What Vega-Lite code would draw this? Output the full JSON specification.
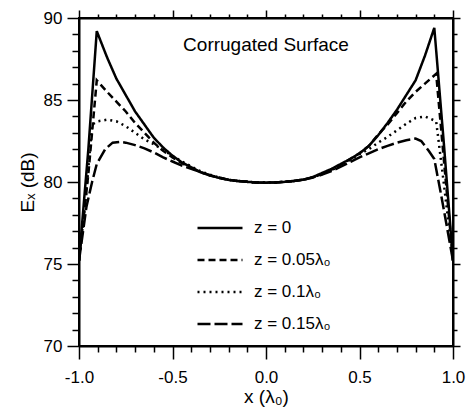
{
  "$schema": "https://vega.github.io/schema/vega-lite/v6.json",
  "width": 374,
  "height": 328,
  "autosize": "none",
  "padding": {"left": 79, "top": 18, "right": 14, "bottom": 73},
  "background": "white",
  "config": {
    "view": {"stroke": "black", "strokeWidth": 2},
    "font": "Liberation Sans",
    "axis": {"grid": false, "labelOverlap": false, "labelFlush": false, "domain": true, "ticks": true, "domainColor": "black", "tickColor": "black", "domainWidth": 2, "tickWidth": 1.5}
  },
  "datasets": {
    "curves": [
      {"x": -1.0, "y": 75.2, "s": "z = 0"},
      {"x": -0.95, "y": 82.0, "s": "z = 0"},
      {"x": -0.905, "y": 89.2, "s": "z = 0"},
      {"x": -0.85, "y": 87.6, "s": "z = 0"},
      {"x": -0.8, "y": 86.3, "s": "z = 0"},
      {"x": -0.75, "y": 85.3, "s": "z = 0"},
      {"x": -0.7, "y": 84.3, "s": "z = 0"},
      {"x": -0.65, "y": 83.5, "s": "z = 0"},
      {"x": -0.6, "y": 82.7, "s": "z = 0"},
      {"x": -0.55, "y": 82.1, "s": "z = 0"},
      {"x": -0.5, "y": 81.6, "s": "z = 0"},
      {"x": -0.45, "y": 81.2, "s": "z = 0"},
      {"x": -0.4, "y": 80.9, "s": "z = 0"},
      {"x": -0.35, "y": 80.6, "s": "z = 0"},
      {"x": -0.3, "y": 80.4, "s": "z = 0"},
      {"x": -0.25, "y": 80.25, "s": "z = 0"},
      {"x": -0.2, "y": 80.13, "s": "z = 0"},
      {"x": -0.15, "y": 80.06, "s": "z = 0"},
      {"x": -0.1, "y": 80.01, "s": "z = 0"},
      {"x": -0.05, "y": 79.97, "s": "z = 0"},
      {"x": 0.0, "y": 79.96, "s": "z = 0"},
      {"x": 0.05, "y": 79.97, "s": "z = 0"},
      {"x": 0.1, "y": 80.01, "s": "z = 0"},
      {"x": 0.15, "y": 80.07, "s": "z = 0"},
      {"x": 0.2, "y": 80.15, "s": "z = 0"},
      {"x": 0.25, "y": 80.3, "s": "z = 0"},
      {"x": 0.3, "y": 80.55, "s": "z = 0"},
      {"x": 0.35, "y": 80.8, "s": "z = 0"},
      {"x": 0.4, "y": 81.1, "s": "z = 0"},
      {"x": 0.45, "y": 81.4, "s": "z = 0"},
      {"x": 0.5, "y": 81.75, "s": "z = 0"},
      {"x": 0.55, "y": 82.2, "s": "z = 0"},
      {"x": 0.6, "y": 82.85, "s": "z = 0"},
      {"x": 0.65, "y": 83.6, "s": "z = 0"},
      {"x": 0.7, "y": 84.4, "s": "z = 0"},
      {"x": 0.75, "y": 85.3, "s": "z = 0"},
      {"x": 0.8, "y": 86.2, "s": "z = 0"},
      {"x": 0.85, "y": 87.7, "s": "z = 0"},
      {"x": 0.9, "y": 89.4, "s": "z = 0"},
      {"x": 0.95, "y": 82.5, "s": "z = 0"},
      {"x": 1.0, "y": 75.2, "s": "z = 0"},

      {"x": -1.0, "y": 75.2, "s": "z = 0.05λ₀"},
      {"x": -0.95, "y": 80.5, "s": "z = 0.05λ₀"},
      {"x": -0.905, "y": 86.2, "s": "z = 0.05λ₀"},
      {"x": -0.85, "y": 85.5, "s": "z = 0.05λ₀"},
      {"x": -0.8, "y": 84.9, "s": "z = 0.05λ₀"},
      {"x": -0.75, "y": 84.3, "s": "z = 0.05λ₀"},
      {"x": -0.7, "y": 83.6, "s": "z = 0.05λ₀"},
      {"x": -0.65, "y": 83.0, "s": "z = 0.05λ₀"},
      {"x": -0.6, "y": 82.4, "s": "z = 0.05λ₀"},
      {"x": -0.55, "y": 81.9, "s": "z = 0.05λ₀"},
      {"x": -0.5, "y": 81.5, "s": "z = 0.05λ₀"},
      {"x": -0.45, "y": 81.15, "s": "z = 0.05λ₀"},
      {"x": -0.4, "y": 80.85, "s": "z = 0.05λ₀"},
      {"x": -0.35, "y": 80.6, "s": "z = 0.05λ₀"},
      {"x": -0.3, "y": 80.4, "s": "z = 0.05λ₀"},
      {"x": -0.25, "y": 80.25, "s": "z = 0.05λ₀"},
      {"x": -0.2, "y": 80.13, "s": "z = 0.05λ₀"},
      {"x": -0.15, "y": 80.06, "s": "z = 0.05λ₀"},
      {"x": -0.1, "y": 80.01, "s": "z = 0.05λ₀"},
      {"x": -0.05, "y": 79.97, "s": "z = 0.05λ₀"},
      {"x": 0.0, "y": 79.96, "s": "z = 0.05λ₀"},
      {"x": 0.05, "y": 79.97, "s": "z = 0.05λ₀"},
      {"x": 0.1, "y": 80.01, "s": "z = 0.05λ₀"},
      {"x": 0.15, "y": 80.06, "s": "z = 0.05λ₀"},
      {"x": 0.2, "y": 80.14, "s": "z = 0.05λ₀"},
      {"x": 0.25, "y": 80.28, "s": "z = 0.05λ₀"},
      {"x": 0.3, "y": 80.5, "s": "z = 0.05λ₀"},
      {"x": 0.35, "y": 80.75, "s": "z = 0.05λ₀"},
      {"x": 0.4, "y": 81.05, "s": "z = 0.05λ₀"},
      {"x": 0.45, "y": 81.4, "s": "z = 0.05λ₀"},
      {"x": 0.5, "y": 81.75, "s": "z = 0.05λ₀"},
      {"x": 0.55, "y": 82.2, "s": "z = 0.05λ₀"},
      {"x": 0.6, "y": 82.9, "s": "z = 0.05λ₀"},
      {"x": 0.65, "y": 83.5, "s": "z = 0.05λ₀"},
      {"x": 0.7, "y": 84.2, "s": "z = 0.05λ₀"},
      {"x": 0.75, "y": 84.9, "s": "z = 0.05λ₀"},
      {"x": 0.8, "y": 85.5, "s": "z = 0.05λ₀"},
      {"x": 0.85, "y": 86.0, "s": "z = 0.05λ₀"},
      {"x": 0.91, "y": 86.6, "s": "z = 0.05λ₀"},
      {"x": 0.95, "y": 81.5, "s": "z = 0.05λ₀"},
      {"x": 1.0, "y": 75.2, "s": "z = 0.05λ₀"},

      {"x": -1.0, "y": 75.2, "s": "z = 0.1λ₀"},
      {"x": -0.96, "y": 79.5, "s": "z = 0.1λ₀"},
      {"x": -0.93, "y": 83.5, "s": "z = 0.1λ₀"},
      {"x": -0.9, "y": 83.7, "s": "z = 0.1λ₀"},
      {"x": -0.85, "y": 83.8, "s": "z = 0.1λ₀"},
      {"x": -0.8, "y": 83.7, "s": "z = 0.1λ₀"},
      {"x": -0.75, "y": 83.4, "s": "z = 0.1λ₀"},
      {"x": -0.7, "y": 83.0, "s": "z = 0.1λ₀"},
      {"x": -0.65, "y": 82.6, "s": "z = 0.1λ₀"},
      {"x": -0.6, "y": 82.3, "s": "z = 0.1λ₀"},
      {"x": -0.55, "y": 81.95, "s": "z = 0.1λ₀"},
      {"x": -0.5, "y": 81.6, "s": "z = 0.1λ₀"},
      {"x": -0.45, "y": 81.25, "s": "z = 0.1λ₀"},
      {"x": -0.4, "y": 80.95, "s": "z = 0.1λ₀"},
      {"x": -0.35, "y": 80.65, "s": "z = 0.1λ₀"},
      {"x": -0.3, "y": 80.45, "s": "z = 0.1λ₀"},
      {"x": -0.25, "y": 80.27, "s": "z = 0.1λ₀"},
      {"x": -0.2, "y": 80.13, "s": "z = 0.1λ₀"},
      {"x": -0.15, "y": 80.06, "s": "z = 0.1λ₀"},
      {"x": -0.1, "y": 80.01, "s": "z = 0.1λ₀"},
      {"x": -0.05, "y": 79.97, "s": "z = 0.1λ₀"},
      {"x": 0.0, "y": 79.96, "s": "z = 0.1λ₀"},
      {"x": 0.05, "y": 79.97, "s": "z = 0.1λ₀"},
      {"x": 0.1, "y": 80.01, "s": "z = 0.1λ₀"},
      {"x": 0.15, "y": 80.06, "s": "z = 0.1λ₀"},
      {"x": 0.2, "y": 80.14, "s": "z = 0.1λ₀"},
      {"x": 0.25, "y": 80.28, "s": "z = 0.1λ₀"},
      {"x": 0.3, "y": 80.48, "s": "z = 0.1λ₀"},
      {"x": 0.35, "y": 80.72, "s": "z = 0.1λ₀"},
      {"x": 0.4, "y": 81.0, "s": "z = 0.1λ₀"},
      {"x": 0.45, "y": 81.35, "s": "z = 0.1λ₀"},
      {"x": 0.5, "y": 81.7, "s": "z = 0.1λ₀"},
      {"x": 0.55, "y": 82.0, "s": "z = 0.1λ₀"},
      {"x": 0.6, "y": 82.4, "s": "z = 0.1λ₀"},
      {"x": 0.65, "y": 82.75, "s": "z = 0.1λ₀"},
      {"x": 0.7, "y": 83.15, "s": "z = 0.1λ₀"},
      {"x": 0.75, "y": 83.55, "s": "z = 0.1λ₀"},
      {"x": 0.8, "y": 83.9, "s": "z = 0.1λ₀"},
      {"x": 0.85, "y": 84.0, "s": "z = 0.1λ₀"},
      {"x": 0.91, "y": 83.7, "s": "z = 0.1λ₀"},
      {"x": 0.95, "y": 80.0, "s": "z = 0.1λ₀"},
      {"x": 1.0, "y": 75.2, "s": "z = 0.1λ₀"},

      {"x": -1.0, "y": 75.2, "s": "z = 0.15λ₀"},
      {"x": -0.96, "y": 78.5, "s": "z = 0.15λ₀"},
      {"x": -0.93, "y": 80.0, "s": "z = 0.15λ₀"},
      {"x": -0.905, "y": 81.1, "s": "z = 0.15λ₀"},
      {"x": -0.86, "y": 82.0, "s": "z = 0.15λ₀"},
      {"x": -0.82, "y": 82.4, "s": "z = 0.15λ₀"},
      {"x": -0.78, "y": 82.45, "s": "z = 0.15λ₀"},
      {"x": -0.75, "y": 82.4, "s": "z = 0.15λ₀"},
      {"x": -0.7, "y": 82.25, "s": "z = 0.15λ₀"},
      {"x": -0.65, "y": 82.05, "s": "z = 0.15λ₀"},
      {"x": -0.6, "y": 81.8, "s": "z = 0.15λ₀"},
      {"x": -0.55, "y": 81.5, "s": "z = 0.15λ₀"},
      {"x": -0.5, "y": 81.25, "s": "z = 0.15λ₀"},
      {"x": -0.45, "y": 81.0, "s": "z = 0.15λ₀"},
      {"x": -0.4, "y": 80.8, "s": "z = 0.15λ₀"},
      {"x": -0.35, "y": 80.6, "s": "z = 0.15λ₀"},
      {"x": -0.3, "y": 80.42, "s": "z = 0.15λ₀"},
      {"x": -0.25, "y": 80.27, "s": "z = 0.15λ₀"},
      {"x": -0.2, "y": 80.13, "s": "z = 0.15λ₀"},
      {"x": -0.15, "y": 80.06, "s": "z = 0.15λ₀"},
      {"x": -0.1, "y": 80.01, "s": "z = 0.15λ₀"},
      {"x": -0.05, "y": 79.97, "s": "z = 0.15λ₀"},
      {"x": 0.0, "y": 79.96, "s": "z = 0.15λ₀"},
      {"x": 0.05, "y": 79.97, "s": "z = 0.15λ₀"},
      {"x": 0.1, "y": 80.01, "s": "z = 0.15λ₀"},
      {"x": 0.15, "y": 80.06, "s": "z = 0.15λ₀"},
      {"x": 0.2, "y": 80.14, "s": "z = 0.15λ₀"},
      {"x": 0.25, "y": 80.27, "s": "z = 0.15λ₀"},
      {"x": 0.3, "y": 80.45, "s": "z = 0.15λ₀"},
      {"x": 0.35, "y": 80.67, "s": "z = 0.15λ₀"},
      {"x": 0.4, "y": 80.93, "s": "z = 0.15λ₀"},
      {"x": 0.45, "y": 81.22, "s": "z = 0.15λ₀"},
      {"x": 0.5, "y": 81.5, "s": "z = 0.15λ₀"},
      {"x": 0.55, "y": 81.75, "s": "z = 0.15λ₀"},
      {"x": 0.6, "y": 82.0, "s": "z = 0.15λ₀"},
      {"x": 0.65, "y": 82.2, "s": "z = 0.15λ₀"},
      {"x": 0.7, "y": 82.4, "s": "z = 0.15λ₀"},
      {"x": 0.75, "y": 82.55, "s": "z = 0.15λ₀"},
      {"x": 0.8, "y": 82.65, "s": "z = 0.15λ₀"},
      {"x": 0.83, "y": 82.5, "s": "z = 0.15λ₀"},
      {"x": 0.87, "y": 81.9, "s": "z = 0.15λ₀"},
      {"x": 0.9, "y": 81.4, "s": "z = 0.15λ₀"},
      {"x": 0.94, "y": 79.0, "s": "z = 0.15λ₀"},
      {"x": 1.0, "y": 75.2, "s": "z = 0.15λ₀"}
    ],
    "label": [{"x": 0.0, "y": 88.35, "t": "Corrugated Surface"}],
    "frame": [
      {"i": 0, "x": -1, "y": 70},
      {"i": 1, "x": -1, "y": 90},
      {"i": 2, "x": 1, "y": 90},
      {"i": 3, "x": 1, "y": 70},
      {"i": 4, "x": -1, "y": 70}
    ]
  },
  "resolve": {"axis": {"x": "independent", "y": "independent"}},
  "layer": [
    {
      "data": {"name": "frame"},
      "mark": {"type": "line", "color": "black", "strokeWidth": 2},
      "encoding": {
        "x": {"field": "x", "type": "quantitative", "scale": {"domain": [-1, 1], "nice": false, "zero": false}, "axis": null},
        "y": {"field": "y", "type": "quantitative", "scale": {"domain": [70, 90], "nice": false, "zero": false}, "axis": null},
        "order": {"field": "i", "type": "quantitative"}
      }
    },
    {
      "data": {"name": "curves"},
      "mark": {"type": "line", "color": "black", "strokeWidth": 2.5, "clip": true},
      "encoding": {
        "x": {
          "field": "x", "type": "quantitative",
          "axis": {
            "orient": "bottom", "title": "x (λ₀)",
            "values": [-1, -0.9, -0.8, -0.7, -0.6, -0.5, -0.4, -0.3, -0.2, -0.1, 0, 0.1, 0.2, 0.3, 0.4, 0.5, 0.6, 0.7, 0.8, 0.9, 1],
            "tickSize": {"condition": {"test": "abs(datum.value*2-round(datum.value*2))<0.001", "value": 13}, "value": 6},
            "labelExpr": "abs(datum.value*2-round(datum.value*2))<0.001 ? replace(format(datum.value,'.1f'),'\u2212','-') : ''",
            "labelFont": "Liberation Sans", "labelFontSize": 17, "labelColor": "black",
            "titleFont": "Liberation Sans", "titleFontSize": 19, "titleFontWeight": "normal", "titleColor": "black",
            "labelPadding": 10, "titlePadding": 2
          }
        },
        "y": {
          "field": "y", "type": "quantitative",
          "axis": {
            "orient": "left", "title": "Eₓ (dB)",
            "values": [70, 71, 72, 73, 74, 75, 76, 77, 78, 79, 80, 81, 82, 83, 84, 85, 86, 87, 88, 89, 90],
            "tickSize": {"condition": {"test": "datum.value % 5 === 0", "value": 12}, "value": 7},
            "labelExpr": "datum.value % 5 === 0 ? format(datum.value,'d') : ''",
            "labelFont": "Liberation Sans", "labelFontSize": 17, "labelColor": "black",
            "titleFont": "Liberation Sans", "titleFontSize": 19, "titleFontWeight": "normal", "titleColor": "black",
            "labelPadding": 5, "titlePadding": 6
          }
        },
        "strokeDash": {
          "field": "s", "type": "nominal",
          "scale": {"domain": ["z = 0", "z = 0.05λ₀", "z = 0.1λ₀", "z = 0.15λ₀"], "range": [[1, 0], [7, 4], [2, 4], [13, 4]]},
          "legend": {
            "orient": "none", "legendX": 117, "legendY": 186, "title": null,
            "symbolType": "stroke", "symbolSize": 2025, "symbolStrokeWidth": 2.5, "symbolStrokeColor": "black",
            "labelFontSize": 17, "labelColor": "black", "labelFont": "Liberation Sans", "labelOffset": 10,
            "rowPadding": -6, "padding": 0
          }
        }
      }
    },
    {
      "data": {"name": "curves"},
      "mark": {"type": "point", "opacity": 0},
      "encoding": {
        "x": {
          "field": "x", "type": "quantitative",
          "axis": {
            "orient": "top", "title": null, "labels": false,
            "values": [-1, -0.9, -0.8, -0.7, -0.6, -0.5, -0.4, -0.3, -0.2, -0.1, 0, 0.1, 0.2, 0.3, 0.4, 0.5, 0.6, 0.7, 0.8, 0.9, 1],
            "tickSize": {"condition": {"test": "abs(datum.value*2-round(datum.value*2))<0.001", "value": 8}, "value": 4}
          }
        },
        "y": {
          "field": "y", "type": "quantitative",
          "axis": {
            "orient": "right", "title": null, "labels": false,
            "values": [70, 71, 72, 73, 74, 75, 76, 77, 78, 79, 80, 81, 82, 83, 84, 85, 86, 87, 88, 89, 90],
            "tickSize": {"condition": {"test": "datum.value % 5 === 0", "value": 7}, "value": 4}
          }
        }
      }
    },
    {
      "data": {"name": "label"},
      "mark": {"type": "text", "font": "Liberation Sans", "fontSize": 19, "color": "black", "align": "center", "baseline": "middle"},
      "encoding": {
        "x": {"field": "x", "type": "quantitative", "axis": null},
        "y": {"field": "y", "type": "quantitative", "axis": null},
        "text": {"field": "t"}
      }
    }
  ]
}
